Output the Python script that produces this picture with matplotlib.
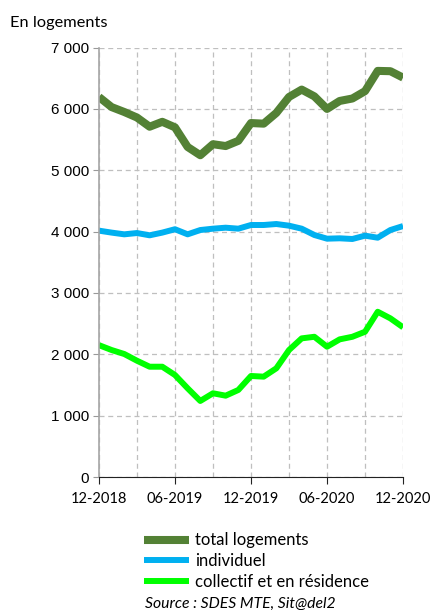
import numpy as np
import matplotlib.pyplot as plt
from matplotlib.ticker import FuncFormatter, MultipleLocator

# mois de 12-2018 à 12-2020
mois = np.arange(25)
x_labels = ['12-2018', '06-2019', '12-2019', '06-2020', '12-2020']

total = [6195, 6030, 5950, 5860, 5710, 5790, 5700, 5380, 5245, 5425, 5395, 5480,
         5770, 5760, 5935, 6195, 6315, 6205, 6000, 6130, 6170, 6290, 6620, 6615, 6510]
individuel = [4016, 3984, 3956, 3977, 3940, 3984, 4039, 3956, 4026, 4048, 4064, 4048,
              4108, 4108, 4124, 4097, 4048, 3945, 3885, 3891, 3880, 3934, 3901, 4026, 4091]
collectif = [2150, 2070, 2005, 1896, 1798, 1798, 1663, 1446, 1240, 1365, 1326, 1419,
             1647, 1636, 1772, 2070, 2260, 2286, 2124, 2244, 2286, 2368, 2694, 2586, 2440]

fig = plt.figure(figsize=(4.32, 6.10), dpi=100)
ax = fig.add_axes([0.229, 0.218, 0.704, 0.704])

ax.plot(mois, total, color='#538135', lw=5.8, label='total logements', solid_capstyle='butt')
ax.plot(mois, individuel, color='#00B0F0', lw=4.3, label='individuel', solid_capstyle='butt')
ax.plot(mois, collectif, color='#00FF00', lw=4.3, label='collectif et en résidence', solid_capstyle='butt')

ax.set_xlim(0, 24)
ax.set_ylim(0, 7000)
ax.yaxis.set_major_locator(MultipleLocator(1000))
ax.yaxis.set_major_formatter(FuncFormatter(lambda v, p: f'{int(v):,}'.replace(',', ' ')))
ax.set_xticks(np.arange(0, 25, 6))
ax.set_xticklabels(x_labels)
ax.set_xticks(np.arange(0, 25, 3), minor=True)
ax.tick_params(axis='x', which='minor', length=0)
ax.tick_params(axis='x', which='major', length=5, color='#222222', labelsize=10.5, pad=6)
ax.tick_params(axis='y', length=4, color='#999999', labelsize=11, pad=3)
for lab in ax.get_yticklabels():
    lab.set_family('Liberation Sans')
for lab in ax.get_xticklabels():
    lab.set_family('Lato')

ax.grid(True, which='both', axis='x', ls=(0, (4, 3)), color='#bfbfbf', lw=0.9)
ax.grid(True, which='major', axis='y', ls=(0, (4, 3)), color='#bfbfbf', lw=0.9)
ax.set_axisbelow(True)
for s in ['top', 'right']:
    ax.spines[s].set_visible(False)
ax.spines['left'].set_color('#a6a6a6')
ax.spines['left'].set_linewidth(1.2)
ax.spines['bottom'].set_color('#222222')

fig.text(0.023, 0.962, 'En logements', fontsize=11.8, family='Lato', va='center')

leg = fig.legend(loc='upper left', bbox_to_anchor=(0.318, 0.138), frameon=False,
                 prop={'family': 'Lato', 'size': 12}, handlelength=2.7,
                 handletextpad=0.35, labelspacing=0.28, borderaxespad=0)

fig.text(0.335, 0.01, 'Source : SDES MTE, Sit@del2', fontsize=11.3, family='Lato',
         style='italic', va='center')

fig.savefig('out.png', dpi=100)
